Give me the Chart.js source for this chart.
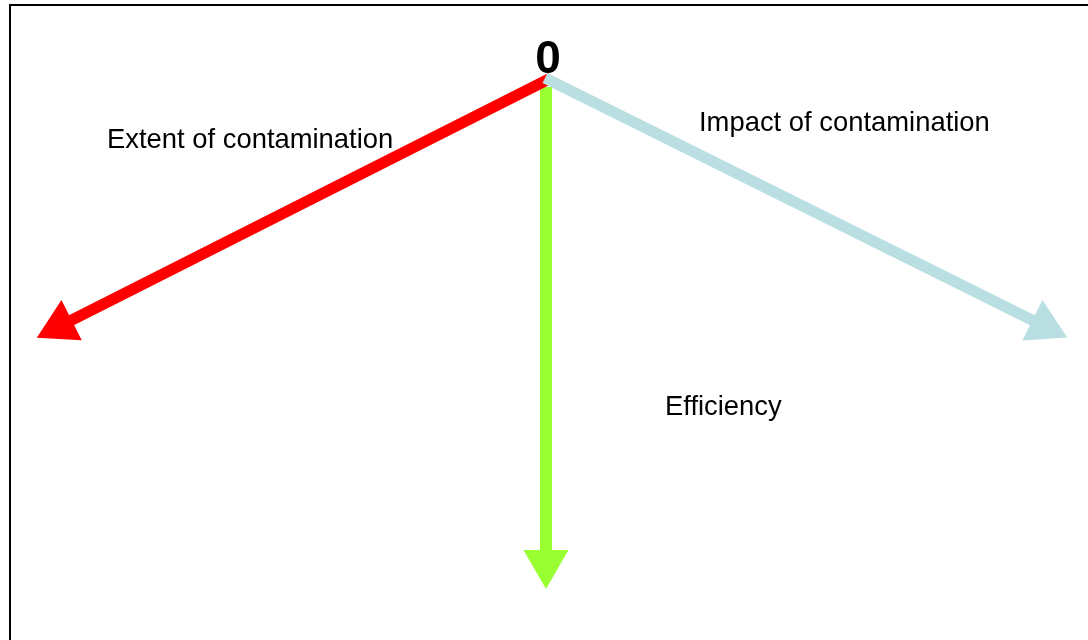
<!DOCTYPE html>
<html>
<head>
<meta charset="utf-8">
<script src="https://cdn.jsdelivr.net/npm/chart.js@4"></script>
<style>
  body { margin: 0; background: #fff; }
  #wrap { width: 1088px; height: 640px; }
</style>
</head>
<body>
<div id="wrap"><canvas id="myChart" width="1088" height="640"></canvas></div>
<script>
// three axes drawn as arrows out of a common origin (0,0)
var axisNames = ['Impact of contamination', 'Extent of contamination', 'Efficiency'];
var axisColors = ['#b9dfe3', '#ff0000', '#99ff33'];
var startX = [-1, 5, 0];
var startY = [4, 4, -5];
var endX = [498, -486, 0];
var endY = [-244, -244, -481];
// where each axis name sits (left edge, baseline)
var labelX = [153, -439, 119];
var labelY = [-49, -66, -333];
var originLabel = '0';

var datasets = [];
for (var i = 0; i < axisNames.length; i++) {
  var dx = endX[i] - startX[i];
  var dy = endY[i] - startY[i];
  var rot = Math.atan2(dx, dy) * 180 / Math.PI;
  datasets.push({
    label: axisNames[i],
    data: [{x: startX[i], y: startY[i]}, {x: endX[i], y: endY[i]}],
    showLine: true,
    borderColor: axisColors[i],
    borderWidth: i == 2 ? 12 : 11,
    borderCapStyle: 'butt',
    pointStyle: 'triangle',
    pointRadius: [0, 26],
    pointHoverRadius: [0, 26],
    pointRotation: [0, rot],
    pointBackgroundColor: axisColors[i],
    pointBorderWidth: 0,
    clip: false
  });
}

// frame line and the texts
var extras = {
  id: 'extras',
  beforeDraw: function (chart) {
    var c = chart.ctx;
    c.save();
    c.strokeStyle = '#000';
    c.lineWidth = 2;
    c.beginPath();
    c.moveTo(10, 640);
    c.lineTo(10, 5);
    c.lineTo(1088, 5);
    c.stroke();
    c.restore();
  },
  afterDatasetsDraw: function (chart) {
    var c = chart.ctx;
    var xs = chart.scales.x, ys = chart.scales.y;
    c.save();
    c.fillStyle = '#000';
    c.textBaseline = 'alphabetic';
    c.textAlign = 'left';
    c.font = '27.4px "Liberation Sans", Arial, sans-serif';
    for (var i = 0; i < axisNames.length; i++) {
      c.fillText(axisNames[i], xs.getPixelForValue(labelX[i]), ys.getPixelForValue(labelY[i]));
    }
    c.textAlign = 'center';
    c.font = 'bold 46px "Liberation Sans", Arial, sans-serif';
    c.fillText(originLabel, xs.getPixelForValue(2), ys.getPixelForValue(9));
    c.restore();
  }
};

var ctx = document.getElementById('myChart').getContext('2d');
var chart = new Chart(ctx, {
  type: 'scatter',
  data: { datasets: datasets },
  options: {
    responsive: false,
    devicePixelRatio: 1,
    animation: false,
    events: [],
    layout: { padding: 0, autoPadding: false },
    plugins: { legend: { display: false }, tooltip: { enabled: false } },
    scales: {
      x: { type: 'linear', min: -546, max: 542, display: false },
      y: { type: 'linear', min: -558, max: 82, display: false }
    }
  },
  plugins: [extras]
});
</script>
</body>
</html>
